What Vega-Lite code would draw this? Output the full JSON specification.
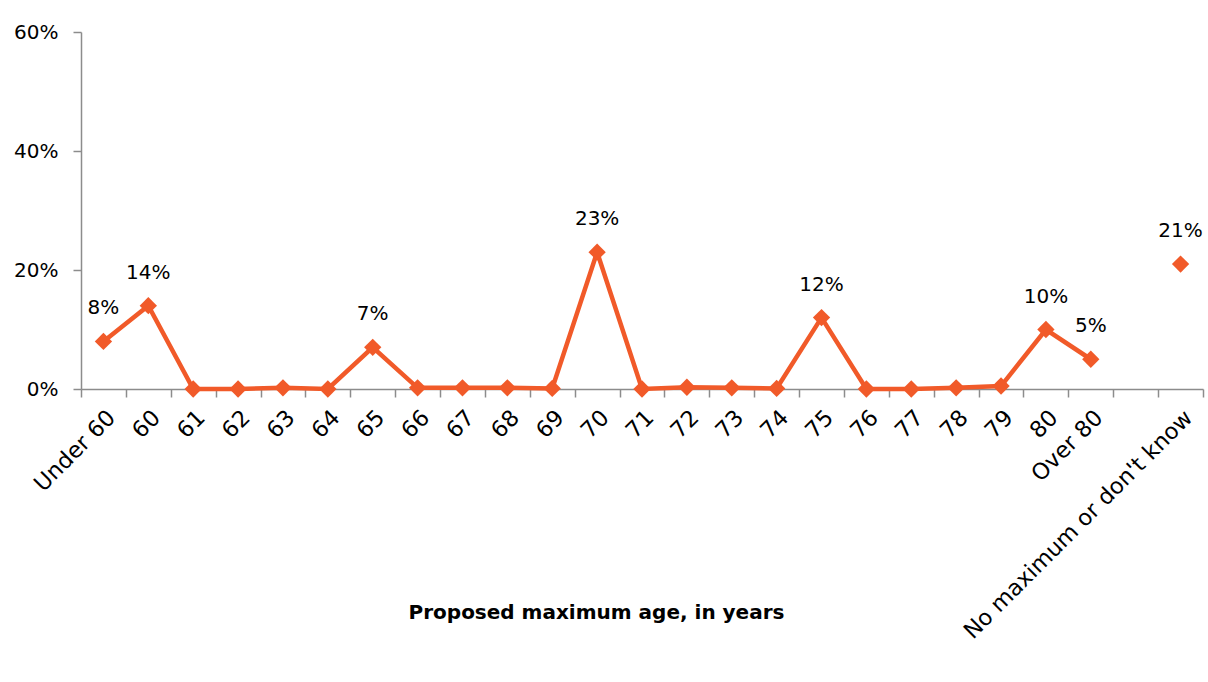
{
  "$schema": "https://vega.github.io/schema/vega-lite/v6.json",
  "width": 1122,
  "height": 357,
  "autosize": "none",
  "padding": {"left": 81, "top": 32, "right": 5, "bottom": 293},
  "background": "white",
  "config": {"view": {"stroke": null}, "font": "DejaVu Sans"},
  "data": {
    "values": [
      {"age": "Under 60", "value": 0.08},
      {"age": "60", "value": 0.14},
      {"age": "61", "value": 0.0},
      {"age": "62", "value": 0.0},
      {"age": "63", "value": 0.002},
      {"age": "64", "value": 0.0},
      {"age": "65", "value": 0.07},
      {"age": "66", "value": 0.002},
      {"age": "67", "value": 0.002},
      {"age": "68", "value": 0.002},
      {"age": "69", "value": 0.001},
      {"age": "70", "value": 0.23},
      {"age": "71", "value": 0.0},
      {"age": "72", "value": 0.003},
      {"age": "73", "value": 0.002},
      {"age": "74", "value": 0.001},
      {"age": "75", "value": 0.12},
      {"age": "76", "value": 0.0},
      {"age": "77", "value": 0.0},
      {"age": "78", "value": 0.002},
      {"age": "79", "value": 0.005},
      {"age": "80", "value": 0.10},
      {"age": "Over 80", "value": 0.05},
      {"age": "No maximum or don't know", "value": 0.21}
    ]
  },
  "encoding": {
    "x": {
      "field": "age",
      "type": "nominal",
      "sort": null,
      "scale": {
        "type": "band",
        "paddingInner": 0,
        "paddingOuter": 0,
        "domain": ["Under 60", "60", "61", "62", "63", "64", "65", "66", "67", "68", "69", "70", "71", "72", "73", "74", "75", "76", "77", "78", "79", "80", "Over 80", " ", "No maximum or don't know"]
      },
      "axis": {
        "title": "Proposed maximum age, in years",
        "titleFontWeight": "bold",
        "titleFontSize": 20,
        "titleColor": "#000000",
        "titleX": 515,
        "titleY": 223,
        "titleAlign": "center",
        "titleBaseline": "middle",
        "labelAngle": -45,
        "labelFontSize": 22.5,
        "labelColor": "#000000",
        "labelPadding": 9,
        "labelOverlap": false,
        "labelLimit": 0,
        "tickBand": "extent",
        "tickSize": 8,
        "tickColor": "#8C8C8C",
        "tickWidth": 1.5,
        "domainColor": "#8C8C8C",
        "domainWidth": 1.5,
        "grid": false
      }
    },
    "y": {
      "field": "value",
      "type": "quantitative",
      "scale": {"domain": [0, 0.6], "nice": false},
      "axis": {
        "title": null,
        "values": [0, 0.2, 0.4, 0.6],
        "format": ".0%",
        "labelFontSize": 20,
        "labelColor": "#000000",
        "labelPadding": 15,
        "tickSize": 8,
        "tickColor": "#8C8C8C",
        "tickWidth": 1.5,
        "domainColor": "#8C8C8C",
        "domainWidth": 1.5,
        "grid": false
      }
    }
  },
  "layer": [
    {
      "transform": [{"filter": {"not": {"field": "age", "equal": "No maximum or don't know"}}}],
      "mark": {"type": "line", "color": "#F15A29", "strokeWidth": 4.5}
    },
    {
      "mark": {"type": "point", "shape": "diamond", "filled": true, "size": 300, "color": "#F15A29", "opacity": 1}
    },
    {
      "transform": [{"filter": "datum.value >= 0.05"}],
      "mark": {"type": "text", "dy": -33, "fontSize": 20, "color": "#000000"},
      "encoding": {"text": {"field": "value", "type": "quantitative", "format": ".0%"}}
    }
  ]
}
